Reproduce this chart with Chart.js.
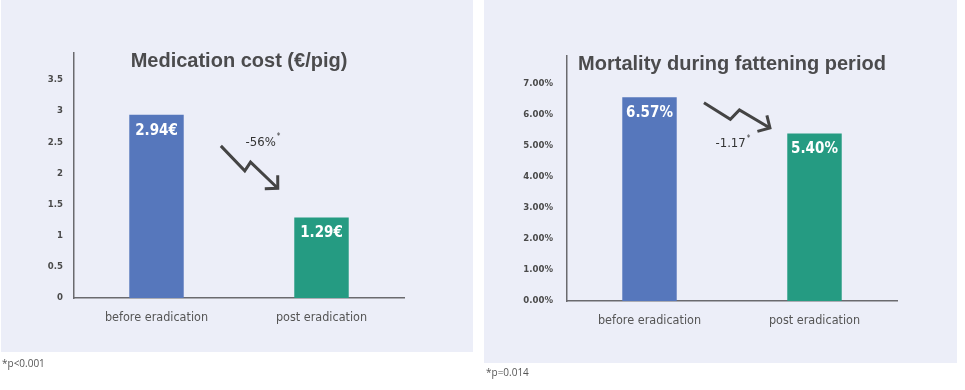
<!DOCTYPE html>
<html>
<head>
<meta charset="utf-8">
<script src="https://cdn.jsdelivr.net/npm/chart.js@4.4.1/dist/chart.umd.min.js"></script>
<style>
  html, body { margin: 0; padding: 0; background: #ffffff; width: 965px; height: 390px; overflow: hidden; }
  .panel { position: absolute; background: #eceef8; }
  .box { position: absolute; }
  .note { position: absolute; font-family: 'Open Sans', 'Liberation Sans', sans-serif; font-size: 10px; color: #555; line-height: 12px; }
</style>
</head>
<body>
<div class="panel" style="left:1px;top:0;width:472px;height:352px;"></div>
<div class="panel" style="left:484px;top:0;width:473px;height:363px;"></div>
<div class="box" style="left:0;top:0;width:480px;height:390px;"><canvas id="c1"></canvas></div>
<div class="box" style="left:482px;top:0;width:483px;height:390px;"><canvas id="c2"></canvas></div>
<div class="note" style="left:2px;top:357px;">*p&lt;0.001</div>
<div class="note" style="left:486px;top:366px;">*p=0.014</div>
<script>
// ---- data ----
const categories = ['before eradication', 'post eradication'];
const costValues = [2.94, 1.29];
const costLabels = ['2.94€', '1.29€'];
const costTitle = 'Medication cost (€/pig)';
const costChange = '-56%';
const mortalityValues = [6.57, 5.40];
const mortalityLabels = ['6.57%', '5.40%'];
const mortalityTitle = 'Mortality during fattening period';
const mortalityChange = '-1.17';
const barColors = ['#5677bc', '#259b82'];

const NARROW = "'DejaVu Sans Condensed', 'Roboto', sans-serif";
const WIDE = "'Liberation Sans', Arial, sans-serif";

function decoPlugin(cfg) {
  return {
    id: 'deco',
    afterDatasetsDraw(chart) {
      const ctx = chart.ctx;
      const ca = chart.chartArea;
      const xs = chart.scales.x, ys = chart.scales.y;
      const meta = chart.getDatasetMeta(0);
      ctx.save();
      ctx.fillStyle = '#ffffff';
      ctx.font = 'bold 15px ' + NARROW;
      ctx.textAlign = 'center';
      ctx.textBaseline = 'middle';
      meta.data.forEach((bar, i) => {
        ctx.fillText(cfg.valueLabels[i], bar.x, bar.y + 16);
      });
      // title
      ctx.fillStyle = '#4b4b4d';
      ctx.font = 'bold 20px ' + WIDE;
      ctx.fillText(cfg.title, (ca.left + ca.right) / 2 + cfg.titleDx, ca.top + cfg.titleDy);
      // change text
      ctx.fillStyle = '#333333';
      ctx.font = '13px ' + NARROW;
      ctx.textAlign = 'left';
      const tx = xs.getPixelForValue(cfg.textPos[0]);
      const ty = ys.getPixelForValue(cfg.textPos[1]);
      ctx.fillText(cfg.change, tx, ty);
      const w = ctx.measureText(cfg.change).width;
      ctx.font = '8px ' + NARROW;
      ctx.fillText('*', tx + w + 1, ty - 5);
      // arrow
      const pts = cfg.arrow.map(p => [xs.getPixelForValue(p[0]), ys.getPixelForValue(p[1])]);
      ctx.strokeStyle = '#444444';
      ctx.lineWidth = 3;
      ctx.lineJoin = 'miter';
      ctx.beginPath();
      ctx.moveTo(pts[0][0], pts[0][1]);
      for (let i = 1; i < pts.length; i++) ctx.lineTo(pts[i][0], pts[i][1]);
      ctx.stroke();
      const tip = pts[pts.length - 1];
      const prev = pts[pts.length - 2];
      const ang = Math.atan2(tip[1] - prev[1], tip[0] - prev[0]);
      const L = 13;
      ctx.beginPath();
      ctx.moveTo(tip[0] + L * Math.cos(ang + Math.PI - 0.8), tip[1] + L * Math.sin(ang + Math.PI - 0.8));
      ctx.lineTo(tip[0], tip[1]);
      ctx.lineTo(tip[0] + L * Math.cos(ang + Math.PI + 0.8), tip[1] + L * Math.sin(ang + Math.PI + 0.8));
      ctx.stroke();
      ctx.restore();
    }
  };
}

function makeChart(id, values, opts) {
  return new Chart(document.getElementById(id), {
    type: 'bar',
    data: {
      labels: categories,
      datasets: [{
        data: values,
        backgroundColor: barColors,
        borderWidth: 0,
        barPercentage: 0.33,
        categoryPercentage: 1
      }]
    },
    options: {
      responsive: true,
      maintainAspectRatio: false,
      animation: false,
      layout: { padding: opts.padding },
      plugins: { legend: { display: false }, tooltip: { enabled: false }, title: { display: false } },
      scales: {
        x: {
          grid: { display: false, drawTicks: false },
          border: { display: true, color: '#6a6a6e', width: 1.5 },
          ticks: { color: '#555555', font: { family: NARROW, size: 12.5 }, padding: 12 },
          afterFit: s => { s.height = 40; }
        },
        y: {
          min: 0,
          max: opts.max,
          grid: { display: false, drawTicks: false },
          border: { display: true, color: '#6a6a6e', width: 1.5 },
          ticks: {
            stepSize: opts.step,
            includeBounds: false,
            color: '#4a4a4a',
            font: { family: NARROW, size: 9.5, weight: 'bold' },
            padding: opts.tickPad,
            callback: opts.tickFmt
          },
          afterFit: s => { s.width = opts.yWidth; }
        }
      }
    },
    plugins: [decoPlugin(opts.deco)]
  });
}

makeChart('c1', costValues, {
  padding: { left: 34, right: 76, top: 53, bottom: 52 },
  yWidth: 40,
  max: 3.93,
  step: 0.5,
  tickPad: 11,
  tickFmt: v => String(v),
  deco: {
    valueLabels: costLabels,
    title: costTitle,
    titleDx: 0,
    titleDy: 8,
    change: costChange,
    textPos: [0.54, 2.5],
    arrow: [[0.39, 2.44], [0.535, 2.04], [0.57, 2.18], [0.735, 1.76]]
  }
});

makeChart('c2', mortalityValues, {
  padding: { left: 35, right: 68, top: 56, bottom: 49 },
  yWidth: 50,
  max: 7.9,
  step: 1,
  tickPad: 14,
  tickFmt: v => v.toFixed(2) + '%',
  deco: {
    valueLabels: mortalityLabels,
    title: mortalityTitle,
    titleDx: 0,
    titleDy: 8,
    change: mortalityChange,
    textPos: [0.4, 5.08],
    arrow: [[0.33, 6.39], [0.49, 5.86], [0.545, 6.16], [0.73, 5.58]]
  }
});
</script>
</body>
</html>
